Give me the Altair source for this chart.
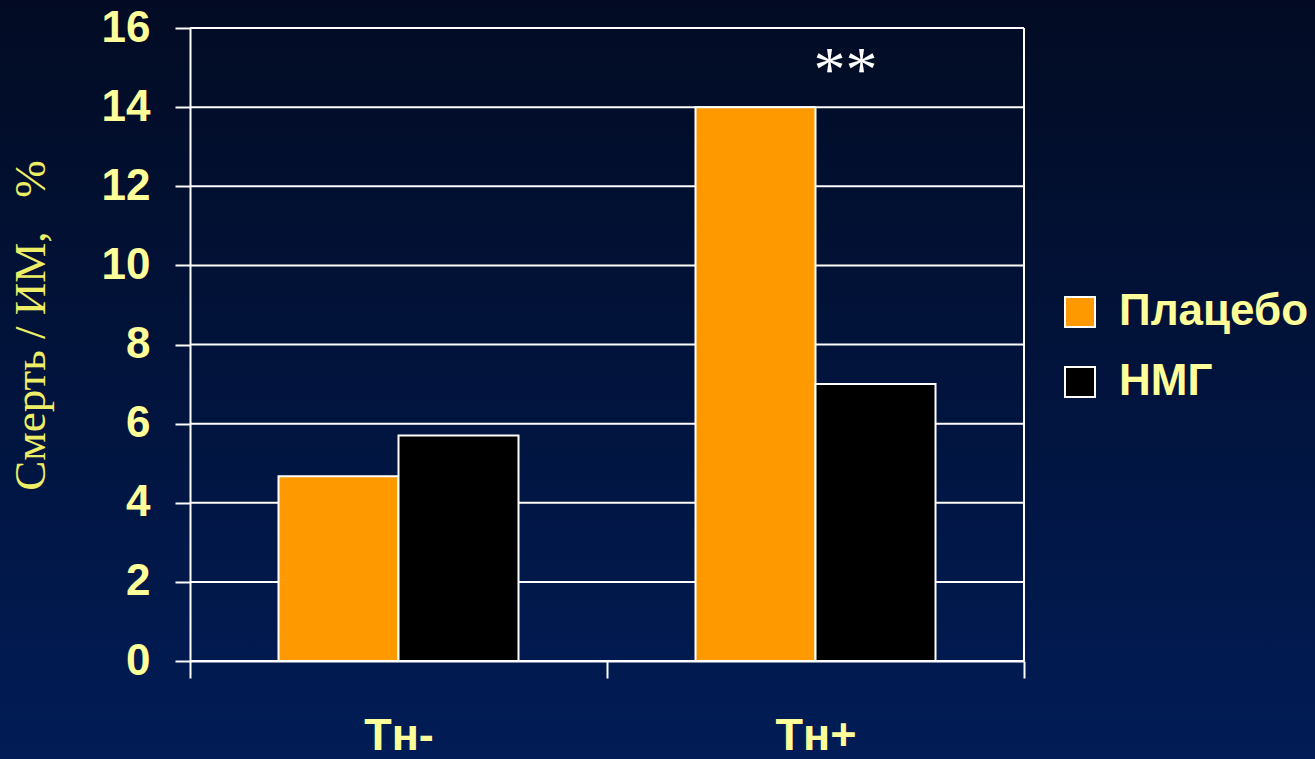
import altair as alt
import pandas as pd

# ---- data ----
categories = ["Тн-", "Тн+"]
groups = ["Плацебо", "НМГ"]
placebo = [4.67, 14.0]
nmg = [5.7, 7.0]
y_ticks = [0, 2, 4, 6, 8, 10, 12, 14, 16]
annot_text = ["**"]
annot_cat = ["Тн+"]
annot_y = [14.9]

rows = []
for i, c in enumerate(categories):
    rows.append({"cat": c, "grp": groups[0], "val": placebo[i]})
    rows.append({"cat": c, "grp": groups[1], "val": nmg[i]})
df = pd.DataFrame(rows)
grid_df = pd.DataFrame({"t": y_ticks})
annot_df = pd.DataFrame({"cat": annot_cat, "y": annot_y, "txt": annot_text})
border_df = pd.DataFrame({"cat": [categories[-1]], "lo": [y_ticks[0]], "hi": [y_ticks[-1]]})

W, H = 834, 633
LEFT, TOP = 190, 28
PAD = {"left": LEFT, "top": TOP, "right": 1315 - LEFT - W, "bottom": 759 - TOP - H}

YEL = "#FFFF99"
FONT = "Liberation Sans"

x_scale = alt.Scale(domain=categories, paddingInner=0, paddingOuter=0)
y_scale = alt.Scale(domain=[0, 16], nice=False)

xaxis = alt.Axis(title=None, labelAngle=0, labelFont=FONT, labelFontWeight="bold",
                 labelFontSize=45, labelColor=YEL, labelPadding=35,
                 tickBand="extent", tickSize=17, tickColor="white", tickWidth=2,
                 domainColor="white", domainWidth=2, grid=False, zindex=1)
yaxis = alt.Axis(title="Смерть / ИМ,\u00a0\u00a0 %", values=y_ticks, labelFont=FONT,
                 labelFontWeight="bold", labelFontSize=44, labelColor=YEL,
                 labelPadding=25, tickSize=15, tickColor="white", tickWidth=2,
                 domainColor="white", domainWidth=2, grid=False, zindex=1,
                 titleFont="Liberation Serif", titleFontSize=45, titleFontWeight="normal",
                 titleColor="#EEEE66", titleAngle=270, titleX=-160, titleY=297,
                 titleAlign="center", titleBaseline="middle", titleLimit=0)

bg = alt.Chart(alt.Data(values=[{}])).mark_rect(
    color=alt.LinearGradient(
        gradient="linear",
        stops=[alt.GradientStop(color="#020b23", offset=0),
               alt.GradientStop(color="#011c56", offset=1)],
        x1=0, x2=0, y1=0, y2=1)
).encode(x=alt.value(-LEFT), x2=alt.value(1315 - LEFT),
         y=alt.value(-TOP), y2=alt.value(759 - TOP))

grid = alt.Chart(grid_df).mark_rule(color="white", strokeWidth=2).encode(
    y=alt.Y("t:Q", scale=y_scale, axis=yaxis)
)

bars = alt.Chart(df).mark_bar(stroke="white", strokeWidth=2).encode(
    x=alt.X("cat:N", scale=x_scale, axis=xaxis, sort=categories),
    xOffset=alt.XOffset("grp:N", sort=groups,
                        scale=alt.Scale(domain=groups, paddingOuter=0.7375, paddingInner=0)),
    y=alt.Y("val:Q", scale=y_scale, axis=yaxis),
    color=alt.Color("grp:N", sort=groups,
                    scale=alt.Scale(domain=groups, range=["#FF9900", "#000000"]),
                    legend=alt.Legend(title=None, orient="none", legendX=868, legendY=262,
                                      symbolType="square", symbolSize=900,
                                      symbolStrokeColor="white", symbolStrokeWidth=2,
                                      symbolOpacity=1,
                                      labelFont=FONT, labelFontSize=44, labelFontWeight="bold",
                                      labelColor=YEL, labelOffset=17, labelLimit=0,
                                      rowPadding=26, padding=0)),
)

border = alt.Chart(border_df).mark_rule(color="white", strokeWidth=2).encode(
    x=alt.X("cat:N", scale=x_scale, axis=xaxis, bandPosition=1),
    y=alt.Y("lo:Q", scale=y_scale, axis=yaxis),
    y2="hi:Q",
)

annot = alt.Chart(annot_df).mark_text(
    font="Liberation Serif", fontSize=64, color="white", dx=30, baseline="middle"
).encode(
    x=alt.X("cat:N", scale=x_scale, axis=xaxis),
    y=alt.Y("y:Q", scale=y_scale, axis=yaxis),
    text="txt:N",
)

chart = alt.layer(bg, grid, bars, border, annot).properties(
    width=W, height=H, padding=PAD,
    autosize=alt.AutoSizeParams(type="none"),
    background="#011640",
).configure_view(stroke=None)

chart.save("out.html", embed_options={"renderer": "svg", "actions": False})
